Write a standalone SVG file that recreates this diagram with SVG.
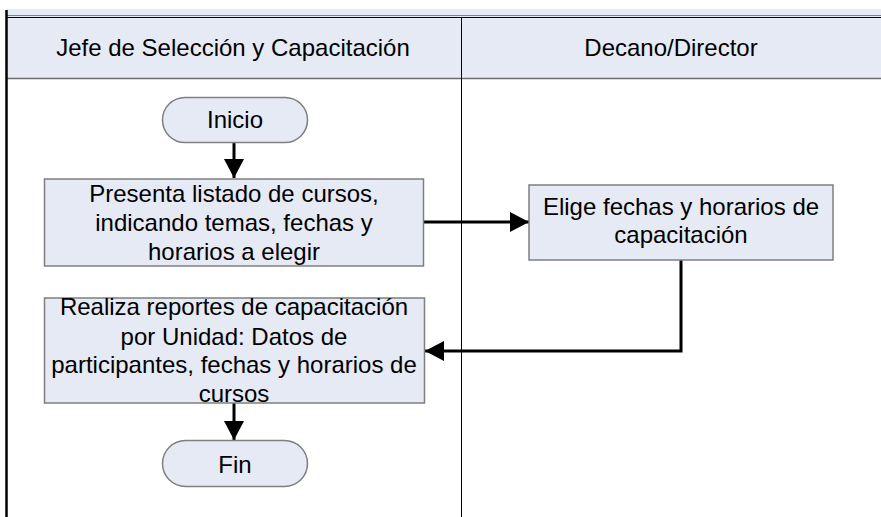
<svg xmlns="http://www.w3.org/2000/svg" width="881" height="517" viewBox="0 0 881 517">
<defs>
<style>
.bg{fill:#E6EAF5}
.box{fill:#E6EAF5;stroke:#7F7F7F;stroke-width:1.5}
.t{font-family:"Liberation Sans",Arial,sans-serif;font-size:24px;fill:#000;text-anchor:middle}
.c{fill:none;stroke:#000;stroke-width:3}
</style>
<marker id="ah" markerWidth="19" markerHeight="20" refX="19" refY="10" orient="auto" markerUnits="userSpaceOnUse">
<path d="M0,0 L19,10 L0,20 Z" fill="#000"/>
</marker>
</defs>
<rect x="0" y="0" width="881" height="517" fill="#fff"/>
<g id="pool">
<rect class="bg" x="6" y="9" width="875" height="70"/>
<line x1="6" y1="15.5" x2="881" y2="15.5" stroke="#808080" stroke-width="1"/>
<line x1="6" y1="17.5" x2="881" y2="17.5" stroke="#000" stroke-width="1.2"/>
<line x1="6" y1="78.5" x2="881" y2="78.5" stroke="#6E6E6E" stroke-width="1.5"/>
<line x1="6.5" y1="10" x2="6.5" y2="517" stroke="#000" stroke-width="2.5"/>
<line x1="461.5" y1="18" x2="461.5" y2="517" stroke="#000" stroke-width="1"/>
</g>
<g id="lane1-header"><text class="t" x="233" y="56">Jefe de Selección y Capacitación</text></g>
<g id="lane2-header"><text class="t" x="671" y="56">Decano/Director</text></g>
<g id="connectors">
<line class="c" x1="234" y1="143" x2="234" y2="178" marker-end="url(#ah)"/>
<line class="c" x1="423" y1="222" x2="529" y2="222" marker-end="url(#ah)"/>
<polyline class="c" points="681,260 681,351 425,351" marker-end="url(#ah)"/>
<line class="c" x1="234" y1="403" x2="234" y2="440" marker-end="url(#ah)"/>
</g>
<g id="inicio">
<rect class="box" x="162.5" y="97.5" width="145" height="45" rx="22.5" ry="22.5"/>
<text class="t" x="235" y="128">Inicio</text>
</g>
<g id="presenta">
<rect class="box" x="44.5" y="179" width="379" height="87"/>
<text class="t" x="234" y="202">Presenta listado de cursos,</text>
<text class="t" x="234" y="231">indicando temas, fechas y</text>
<text class="t" x="234" y="260">horarios a elegir</text>
</g>
<g id="elige">
<rect class="box" x="529" y="185" width="304" height="75"/>
<text class="t" x="681" y="215">Elige fechas y horarios de</text>
<text class="t" x="681" y="243">capacitación</text>
</g>
<g id="realiza">
<rect class="box" x="44.5" y="298" width="380" height="105"/>
<text class="t" x="234" y="315">Realiza reportes de capacitación</text>
<text class="t" x="234" y="345">por Unidad: Datos de</text>
<text class="t" x="234" y="373">participantes, fechas y horarios de</text>
<text class="t" x="234" y="402">cursos</text>
</g>
<g id="fin">
<rect class="box" x="162.5" y="440.5" width="145" height="46" rx="23" ry="23"/>
<text class="t" x="235" y="473">Fin</text>
</g>
</svg>
